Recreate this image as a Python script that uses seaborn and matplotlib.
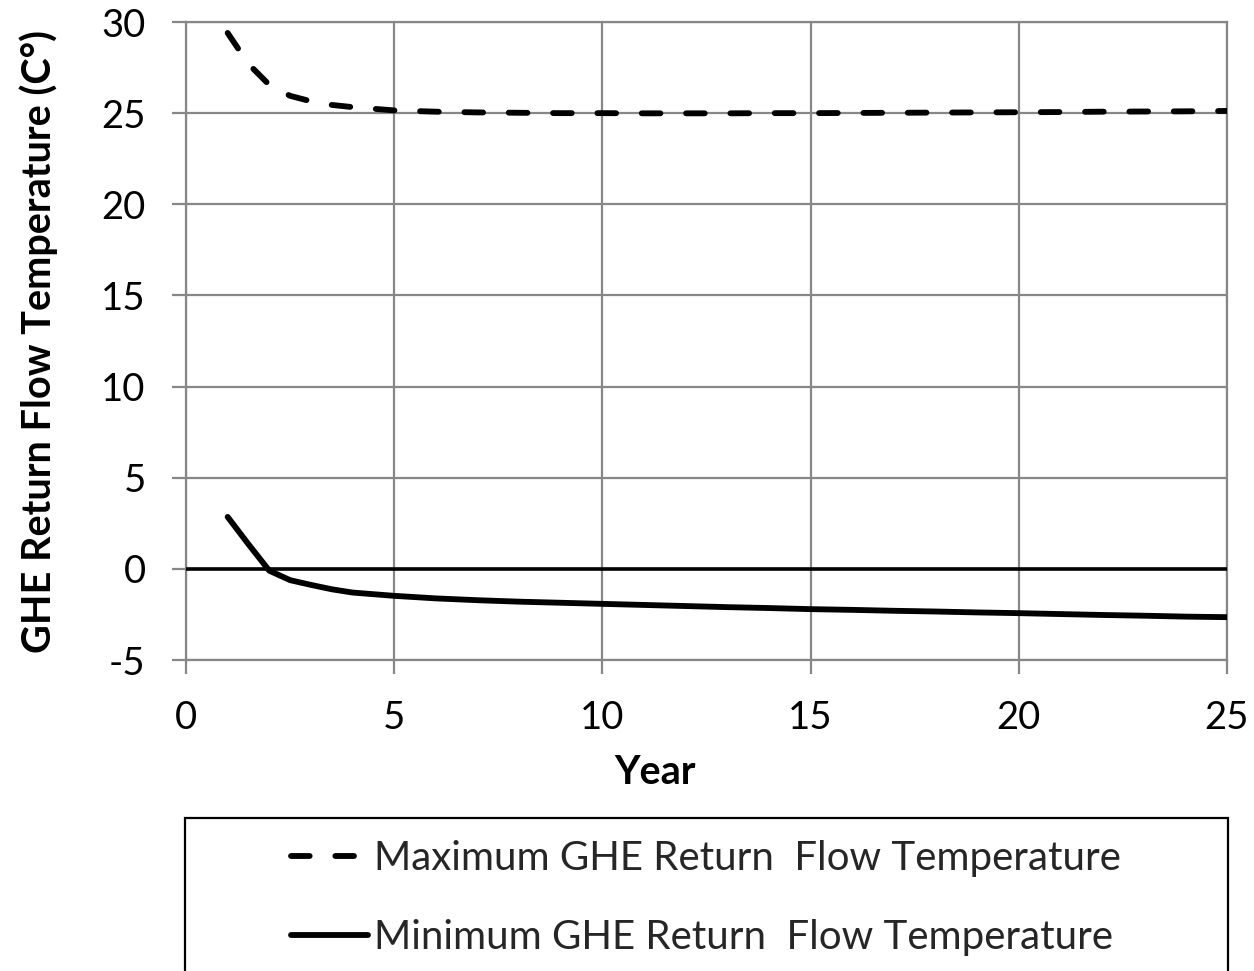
import numpy as np
import pandas as pd
import seaborn as sns
import matplotlib.pyplot as plt
from matplotlib.lines import Line2D
from matplotlib.patches import Rectangle

# GHE return flow temperatures (°C) over the 25-year simulation
years = [1, 1.5, 2, 2.5, 3, 3.5, 4, 5, 6, 7, 8, 9, 10, 11, 12, 13, 14, 15,
         16, 17, 18, 19, 20, 21, 22, 23, 24, 25]
max_temp = [29.4, 27.7, 26.55, 25.95, 25.65, 25.45, 25.33, 25.15, 25.08, 25.04,
            25.02, 25.0, 25.0, 24.99, 24.99, 24.99, 25.0, 25.0, 25.01, 25.02,
            25.03, 25.04, 25.05, 25.06, 25.08, 25.09, 25.1, 25.12]
min_temp = [2.85, 1.35, -0.1, -0.62, -0.88, -1.12, -1.3, -1.48, -1.62, -1.72,
            -1.8, -1.86, -1.92, -1.98, -2.04, -2.1, -2.15, -2.21, -2.25, -2.3,
            -2.34, -2.39, -2.43, -2.48, -2.53, -2.57, -2.62, -2.65]

series_names = ["Maximum GHE Return  Flow Temperature",
                "Minimum GHE Return  Flow Temperature"]
x_ticks = [0, 5, 10, 15, 20, 25]
y_ticks = [-5, 0, 5, 10, 15, 20, 25, 30]

sns.set_theme(style="whitegrid")
plt.rcParams["font.family"] = ["Lato", "DejaVu Sans"]
plt.rcParams["axes.unicode_minus"] = False

GRID = "#878787"
TICK_FS = 27.5
LABEL_FS = 28.5
LEGEND_FS = 29
LW = 4.2
DASH = (3.2, 4.4)

df = pd.DataFrame({
    "Year": years + years,
    "Temp": max_temp + min_temp,
    "Series": [series_names[0]] * len(years) + [series_names[1]] * len(years),
})

fig = plt.figure(figsize=(12.54, 9.71), dpi=100)
ax = fig.add_axes([186 / 1254, 1 - 660 / 971, (1227 - 186) / 1254, (660 - 22) / 971])

sns.lineplot(data=df, x="Year", y="Temp", hue="Series", style="Series",
             palette=["black", "black"],
             dashes={series_names[0]: DASH, series_names[1]: ""},
             linewidth=LW, ax=ax, legend=False, zorder=4)
for ln in ax.lines:
    ln.set_dash_capstyle("round")
    ln.set_solid_capstyle("round")
    ln.set_solid_joinstyle("round")

# zero reference line
ax.axhline(0, color="black", linewidth=2.6, zorder=3)

ax.set_xlim(0, 25)
ax.set_ylim(-5, 30)
ax.set_xticks(x_ticks)
ax.set_yticks(y_ticks)
ax.grid(True, color=GRID, linewidth=1.6)
for sp in ax.spines.values():
    sp.set_visible(True)
    sp.set_color(GRID)
    sp.set_linewidth(1.6)
ax.tick_params(axis="both", which="major", length=10, width=1.6, color=GRID,
               direction="out", left=True, bottom=True, pad=19,
               labelsize=TICK_FS, labelcolor="black")

ax.set_xlabel("Year", fontsize=LABEL_FS, fontweight="bold", color="black")
ax.set_ylabel("GHE Return Flow Temperature (C°)", fontsize=LABEL_FS,
              fontweight="bold", color="black")
ax.xaxis.set_label_coords((655 - 186) / 1041, -0.147)
ax.yaxis.set_label_coords(-0.123, 0.5)

# legend below the plot inside a framed box
handles = [
    Line2D([], [], color="black", linewidth=LW, dashes=DASH,
           dash_capstyle="round"),
    Line2D([], [], color="black", linewidth=LW, solid_capstyle="round"),
]
fig.legend(handles, series_names, loc="center",
           bbox_to_anchor=(706 / 1254, 1 - 898 / 971), frameon=False,
           fontsize=LEGEND_FS, handlelength=1.9, handletextpad=0.15,
           labelspacing=1.05)
fig.patches.append(Rectangle((185 / 1254, -0.05), (1228 - 185) / 1254,
                             1 - 818 / 971 + 0.05, transform=fig.transFigure,
                             facecolor="none", edgecolor="black", linewidth=1.6))

fig.savefig("out.png", dpi=100, facecolor="white")
